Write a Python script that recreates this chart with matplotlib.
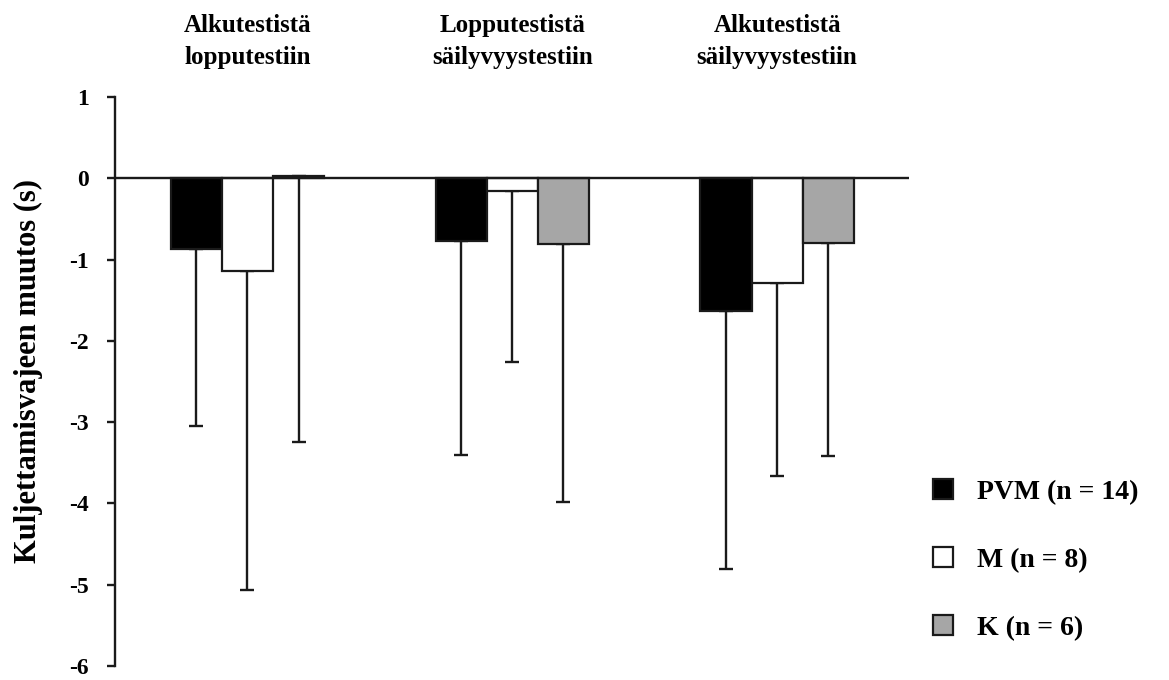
import numpy as np
import matplotlib
matplotlib.use("Agg")
import matplotlib.pyplot as plt
from matplotlib.patches import Patch

plt.rcParams['font.family'] = ['Liberation Serif', 'DejaVu Serif']
plt.rcParams['font.weight'] = 'bold'
plt.rcParams['axes.unicode_minus'] = False

# vaiheet (ryhmät x-akselilla)
categories = ["Alkutestistä\nlopputestiin",
              "Lopputestistä\nsäilyvyystestiin",
              "Alkutestistä\nsäilyvyystestiin"]

series_names = ["PVM (n = 14)", "M (n = 8)", "K (n = 6)"]
series_colors = ["#000000", "#ffffff", "#a6a6a6"]

# keskiarvot
pvm_means = [-0.87, -0.77, -1.63]
m_means = [-1.14, -0.16, -1.29]
k_means = [0.03, -0.81, -0.79]

# virhepalkkien alapäät (arvo, johon viiva päättyy)
pvm_low = [-3.05, -3.40, -4.81]
m_low = [-5.06, -2.26, -3.66]
k_low = [-3.24, -3.98, -3.42]

yticks = [1, 0, -1, -2, -3, -4, -5, -6]

means = [pvm_means, m_means, k_means]
lows = [pvm_low, m_low, k_low]

fig = plt.figure(figsize=(11.69, 6.8), dpi=100)
ax = fig.add_axes([0.0984, 0.0206, 0.6796, 0.8364])

x = np.arange(len(categories))
width = 0.193
offsets = [-width, 0, width]

for vals, lo, col, off in zip(means, lows, series_colors, offsets):
    vals = np.array(vals)
    lo = np.array(lo)
    # vain alaspäin suuntautuva virhe
    err = np.vstack([vals - lo, np.zeros_like(vals)])
    ax.errorbar(x + off, vals, yerr=err, fmt='none', ecolor='#1a1a1a',
                elinewidth=1.7, capsize=5, capthick=1.7, zorder=1)
    ax.bar(x + off, vals, width, color=col, edgecolor='#1a1a1a',
           linewidth=1.6, zorder=2)

ax.axhline(0, color='#1a1a1a', linewidth=1.7, zorder=3)

ax.set_xlim(-0.5, 2.5)
ax.set_ylim(-6, 1)
ax.set_yticks(yticks)
ax.set_yticklabels([str(v) for v in yticks], fontsize=17, fontweight='bold')
ax.tick_params(axis='y', length=6, width=1.7, pad=13, color='#1a1a1a')
ax.set_xticks([])
for s in ['top', 'right', 'bottom']:
    ax.spines[s].set_visible(False)
ax.spines['left'].set_linewidth(1.7)
ax.spines['left'].set_color('#1a1a1a')

# y-akselin otsikko
fig.text(28 / 1169, 1 - 371 / 680, "Kuljettamisvajeen muutos (s)",
         rotation=90, ha='center', va='center', fontsize=22,
         fontweight='bold')

# ryhmien otsikot yläreunaan
for xi, cat in zip(x, categories):
    ax.text(xi, 1.69, cat, ha='center', va='center', fontsize=18,
            fontweight='bold', linespacing=1.5, clip_on=False)

handles = [Patch(facecolor=c, edgecolor='#1a1a1a', linewidth=1.6)
           for c in series_colors]
fig.legend(handles, series_names, loc='center left',
           bbox_to_anchor=(933 / 1169, 1 - 560 / 680), frameon=False,
           prop={'family': 'Liberation Serif', 'weight': 'bold', 'size': 20},
           handlelength=0.72, handleheight=0.72, labelspacing=1.53,
           handletextpad=0.87, borderpad=0, borderaxespad=0)

fig.savefig("out.png", dpi=100)
